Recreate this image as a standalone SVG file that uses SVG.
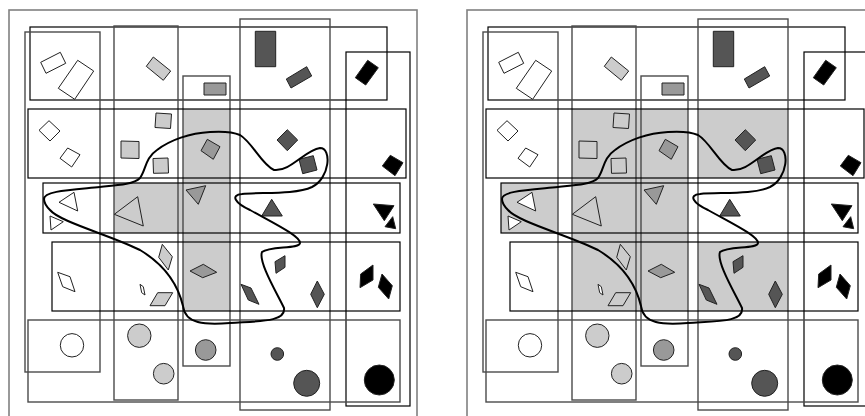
<svg xmlns="http://www.w3.org/2000/svg" xmlns:xlink="http://www.w3.org/1999/xlink" width="865" height="416" viewBox="0 0 865 416">
<style>
.frame{fill:none;stroke:#808080;stroke-width:1.6}
.rk{fill:none;stroke:#000;stroke-width:1.2}
.rg{fill:none;stroke:#4a4a4a;stroke-width:1.4}
.sh{fill:#cccccc;stroke:none}
.s{stroke:#222;stroke-width:1;stroke-linejoin:round}
.w{fill:#fff}.l{fill:#cccccc}.m{fill:#999}.d{fill:#555}.b{fill:#000}.n{fill:none}
.blob{fill:none;stroke:#000;stroke-width:2}
</style>
<defs>
<g id="panel">
  <rect class="rk" x="30" y="27" width="357" height="73"/>
  <rect class="rg" x="25" y="32" width="75" height="340"/>
  <rect class="rg" x="114" y="26" width="64" height="374"/>
  <rect class="rg" x="183" y="76" width="47" height="290"/>
  <rect class="rg" x="240" y="19" width="90" height="391"/>
  <rect class="rk" x="346" y="52" width="64" height="354"/>
  <rect class="rk" x="28" y="109" width="378" height="69"/>
  <rect class="rk" x="43" y="183" width="357" height="50"/>
  <rect class="rk" x="52" y="242" width="348" height="69"/>
  <rect class="rg" x="28" y="320" width="372" height="82"/>
  <g id="shapes">
    <polygon class="s w" points="40.7,62.3 60.3,52.3 65.7,63.3 46,73.3"/>
    <polygon class="s w" points="58.3,88.3 77.7,60.3 93.7,71 74.7,99.3"/>
    <polygon class="s l" points="146.3,66.3 153.3,57 170.7,71 163.3,80.3"/>
    <rect class="s m" x="204" y="83" width="22" height="12"/>
    <rect class="s d" x="255.3" y="31.3" width="20.4" height="35.4"/>
    <polygon class="s d" points="286.3,79 306.7,66.7 311.7,76 291,88"/>
    <polygon class="s b" points="355.3,77.7 367.7,60.3 378.3,67.7 365.7,85"/>
    <polygon class="s w" points="39,130.3 49,120.7 60,131 50,141"/>
    <polygon class="s w" points="60,158.3 67.7,148 80,154.7 71.7,167"/>
    <polygon class="s l" points="156,113 171.5,114 170.5,128.5 155,127.5"/>
    <polygon class="s l" points="121,141 139,141.5 139,158.5 121,158"/>
    <polygon class="s l" points="153,158.5 168,158 168.5,173 153.5,173.3"/>
    <polygon class="s m" points="201,150.7 207.3,139.3 220,146.7 213.3,159.3"/>
    <polygon class="s d" points="277,140 287.3,129.7 297.7,140 287.3,150.7"/>
    <polygon class="s d" points="299,159.3 313.3,155.7 317,170 302.7,173.7"/>
    <polygon class="s b" points="382.3,166 390.3,155.3 403,162.7 395,175.7"/>
    <polygon class="s w" points="59,202.3 74,192.3 77.7,211"/>
    <polygon class="s w" points="50,216 63.3,221.7 51,230"/>
    <polygon class="s n" points="114.3,214.3 137.7,196.7 143.3,226"/>
    <polygon class="s m" points="186,190 205.7,185.7 198.3,204.3"/>
    <polygon class="s d" points="261.7,216 271.7,199.3 282.3,216"/>
    <polygon class="s b" points="373.3,204 394,205.7 384.3,220.7"/>
    <polygon class="s b" points="385,226.7 392.7,216.7 395.7,228.7"/>
    <polygon class="s w" points="57.7,272.3 70,276.7 75,291.7 62.7,286.7"/>
    <polygon class="s l" points="162.3,244.3 172.3,256.7 168.3,270 158.7,257.3"/>
    <polygon class="s w" points="140,284.3 143.3,286.7 145,295 141.7,292.7"/>
    <polygon class="s l" points="150,305.7 157.7,292.7 172.7,292.7 165,305.7"/>
    <polygon class="s m" points="190,271 203.3,264.3 216.7,272.3 202.7,277.7"/>
    <polygon class="s d" points="275,261.7 285,255.7 285,267.3 276,273.3"/>
    <polygon class="s d" points="241,284.3 251,288 259,304.3 248.3,300"/>
    <polygon class="s d" points="310.7,294.3 317.3,281 324.3,294.3 317.3,307.7"/>
    <polygon class="s b" points="360,287.7 360.7,274 373,265 373,280"/>
    <polygon class="s b" points="378.3,287.3 382,274 392.3,285.7 388.7,299"/>
    <circle class="s w" cx="72" cy="345.3" r="11.7"/>
    <circle class="s l" cx="139.3" cy="335.7" r="11.7"/>
    <circle class="s l" cx="163.7" cy="373.7" r="10.3"/>
    <circle class="s m" cx="205.7" cy="350" r="10.3"/>
    <circle class="s d" cx="277.3" cy="354" r="6.3"/>
    <circle class="s d" cx="306.7" cy="383.3" r="13"/>
    <circle class="s b" cx="379.3" cy="380" r="15"/>
  </g>
  <path class="blob" d="M 44,199 C 44,191 70,190 100,187 C 120,185 134,184 140,178 C 146,170 145,158 157,150 C 170,140 190,133 210,132 C 225,131 233,132 240,135 C 252,142 262,165 274,170 C 290,172 305,150 320,148 C 332,148 330,178 312,187 C 295,195 260,192 242,194 C 230,195 235,203 250,210 C 275,224 300,236 300,243 C 300,249 270,246 262,252 C 258,262 278,295 284,308 C 286,322 260,321 230,323 C 205,325 185,324 183,306 C 178,285 165,265 140,250 C 110,235 60,222 50,210 C 45,205 44,202 44,199 Z"/>
</g>
</defs>
<g id="left-panel">
  <rect class="frame" x="9" y="10" width="408" height="420"/>
  <g id="left-shading">
    <rect class="sh" x="183" y="109" width="47" height="202"/>
    <rect class="sh" x="114" y="183" width="69" height="50"/>
  </g>
  <use xlink:href="#panel" href="#panel"/>
</g>
<g id="right-panel" transform="translate(458,0)">
  <rect class="frame" x="9" y="10" width="420" height="420"/>
  <g id="right-shading">
    <rect class="sh" x="43" y="183" width="57" height="50"/>
    <rect class="sh" x="114" y="109" width="116" height="202"/>
    <rect class="sh" x="240" y="109" width="90" height="69"/>
    <rect class="sh" x="240" y="242" width="90" height="69"/>
  </g>
  <use xlink:href="#panel" href="#panel"/>
</g>
</svg>
